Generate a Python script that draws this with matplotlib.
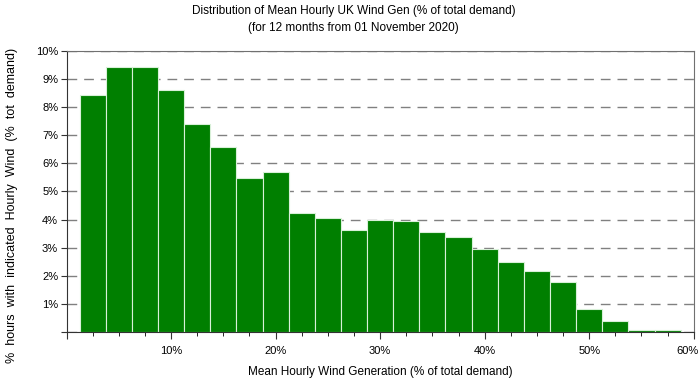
import numpy as np
import matplotlib
matplotlib.use("Agg")
import matplotlib.pyplot as plt
from matplotlib.ticker import MultipleLocator, FuncFormatter
from matplotlib.transforms import ScaledTranslation

# bin centres (% of total demand) and share of hours (%)
wind_pct = [2.5, 5, 7.5, 10, 12.5, 15, 17.5, 20, 22.5, 25, 27.5, 30,
            32.5, 35, 37.5, 40, 42.5, 45, 47.5, 50, 52.5, 55, 57.5]
hours_pct = [8.43, 9.43, 9.43, 8.62, 7.39, 6.58, 5.47, 5.68, 4.25, 4.07, 3.61, 4.00,
             3.95, 3.55, 3.37, 2.95, 2.50, 2.17, 1.77, 0.81, 0.39, 0.07, 0.07]

title = "Distribution of Mean Hourly UK Wind Gen (% of total demand)\n(for 12 months from 01 November 2020)"
xlabel = "Mean Hourly Wind Generation (% of total demand)"
ylabel = "%  hours  with  indicated  Hourly  Wind  (%  tot  demand)"

plt.rcParams['font.family'] = ['Liberation Sans', 'DejaVu Sans']

fig = plt.figure(figsize=(7, 3.81), dpi=100)
ax = fig.add_axes([0.095, 0.129, 0.896, 0.737])

ax.bar(wind_pct, hours_pct, width=2.5, color="#007f00",
       edgecolor="#d8f0d8", linewidth=0.8, zorder=2)

ax.set_xlim(0, 60)
ax.set_ylim(0, 10)

ax.xaxis.set_major_locator(MultipleLocator(10))
ax.xaxis.set_minor_locator(MultipleLocator(2.5))
ax.yaxis.set_major_locator(MultipleLocator(1))
pct = FuncFormatter(lambda v, p: "" if v == 0 else "%d%%" % v)
ax.xaxis.set_major_formatter(pct)
ax.yaxis.set_major_formatter(pct)

ax.tick_params(axis="both", labelsize=8, color="#333333", direction="out")
ax.tick_params(axis="x", which="major", length=5, pad=5)
ax.tick_params(axis="x", which="minor", length=3)
ax.tick_params(axis="y", which="major", length=4, pad=2)

ax.yaxis.grid(True, linestyle=(0, (7, 5)), color="#808080", linewidth=1, zorder=0)
ax.set_axisbelow(True)

for s in ["top", "right"]:
    ax.spines[s].set_color("#707070")
for s in ["left", "bottom"]:
    ax.spines[s].set_color("#333333")

ax.set_xlabel(xlabel, fontsize=8.5)
ax.xaxis.label.set_va("center")
ax.xaxis.set_label_coords(0.5, -0.142)
ax.set_ylabel(ylabel, fontsize=9)
ax.yaxis.label.set_va("center")
ax.yaxis.set_label_coords(-0.087, 0.45)
fig.text(0.505, 0.988, title, ha="center", va="top", fontsize=8.5, linespacing=1.55)

# last x label sits pulled in from the right edge
fig.canvas.draw()
last = [t for t in ax.get_xticklabels() if t.get_text() == "60%"]
for t in last:
    t.set_transform(t.get_transform() + ScaledTranslation(-0.06, 0, fig.dpi_scale_trans))

fig.savefig("out.png", dpi=100)
